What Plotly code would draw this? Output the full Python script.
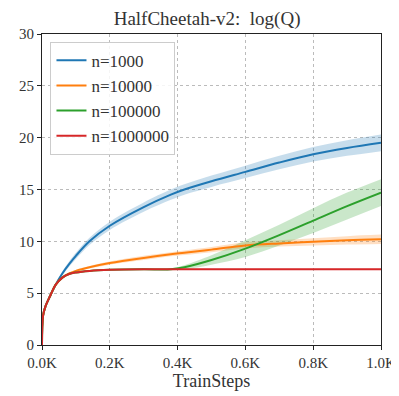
import plotly.graph_objects as go

# Data (x in thousands of train steps)
steps = [0.0, 0.003, 0.01, 0.025, 0.04, 0.06, 0.08, 0.1, 0.14, 0.2, 0.3, 0.38, 0.42, 0.5, 0.6, 0.7, 0.8, 0.9, 1.0]

q_1000    = [0.0, 2.8, 3.7, 4.8, 5.8, 6.9, 7.8, 8.6, 10.0, 11.5, 13.3, 14.5, 15.0, 15.8, 16.7, 17.6, 18.4, 19.0, 19.5]
q_1000_sd = [0.0, 0.05, 0.05, 0.1, 0.15, 0.2, 0.25, 0.3, 0.35, 0.4, 0.45, 0.5, 0.5, 0.55, 0.6, 0.65, 0.7, 0.75, 0.8]

q_10000    = [0.0, 2.8, 3.7, 4.8, 5.8, 6.5, 6.9, 7.15, 7.5, 7.9, 8.4, 8.75, 8.9, 9.2, 9.6, 9.8, 9.95, 10.1, 10.2]
q_10000_sd = [0.0, 0.05, 0.05, 0.05, 0.05, 0.05, 0.05, 0.1, 0.12, 0.15, 0.2, 0.2, 0.22, 0.25, 0.3, 0.3, 0.35, 0.4, 0.45]

q_100000    = [0.0, 2.8, 3.7, 4.8, 5.8, 6.5, 6.85, 7.0, 7.15, 7.25, 7.3, 7.3, 7.5, 8.2, 9.3, 10.6, 12.0, 13.4, 14.7]
q_100000_sd = [0.0, 0.05, 0.05, 0.05, 0.05, 0.05, 0.05, 0.05, 0.05, 0.05, 0.05, 0.1, 0.2, 0.45, 0.8, 1.0, 1.2, 1.3, 1.3]

q_1000000    = [0.0, 2.8, 3.7, 4.8, 5.8, 6.5, 6.85, 7.0, 7.15, 7.25, 7.3, 7.3, 7.3, 7.3, 7.3, 7.3, 7.3, 7.3, 7.3]
q_1000000_sd = [0.0, 0.05, 0.05, 0.05, 0.05, 0.05, 0.05, 0.05, 0.05, 0.05, 0.05, 0.05, 0.05, 0.05, 0.05, 0.05, 0.05, 0.05, 0.05]

names = ["n=1000", "n=10000", "n=100000", "n=1000000"]
means = [q_1000, q_10000, q_100000, q_1000000]
sds = [q_1000_sd, q_10000_sd, q_100000_sd, q_1000000_sd]
colors = ["#1f77b4", "#ff7f0e", "#2ca02c", "#d62728"]
fills = ["rgba(31,119,180,0.25)", "rgba(255,127,14,0.25)", "rgba(44,160,44,0.25)", "rgba(214,39,40,0.25)"]

x_ticks = [0.0, 0.2, 0.4, 0.6, 0.8, 1.0]
x_labels = ["0.0K", "0.2K", "0.4K", "0.6K", "0.8K", "1.0K"]
y_ticks = [0, 5, 10, 15, 20, 25, 30]

fig = go.Figure()
for name, m, s, c, f in zip(names, means, sds, colors, fills):
    upper = [a + b for a, b in zip(m, s)]
    lower = [a - b for a, b in zip(m, s)]
    fig.add_trace(go.Scatter(x=steps, y=upper, mode="lines", line=dict(width=0, shape="spline"),
                             showlegend=False, hoverinfo="skip"))
    fig.add_trace(go.Scatter(x=steps, y=lower, mode="lines", line=dict(width=0, shape="spline"),
                             fill="tonexty", fillcolor=f, showlegend=False, hoverinfo="skip"))
for name, m, c in zip(names, means, colors):
    fig.add_trace(go.Scatter(x=steps, y=m, mode="lines", name=name,
                             line=dict(color=c, width=2, shape="spline")))

font_family = "Liberation Serif"
axis_common = dict(showline=True, linecolor="#222", linewidth=1.2, mirror=True,
                   ticks="outside", ticklen=4, tickcolor="#222", automargin=False,
                   showgrid=True, gridcolor="#bbbbbb", griddash="dot", gridwidth=1,
                   zeroline=False, tickfont=dict(size=15, color="#333", family=font_family))

# The page body has an 8px margin, so the figure is sized to fit the window.
fig.update_layout(
    width=391, height=388,
    margin=dict(l=34, r=18, t=26, b=51, autoexpand=False),
    paper_bgcolor="white", plot_bgcolor="white",
    font=dict(family=font_family, color="#333"),
    title=dict(text="HalfCheetah-v2:  log(Q)", xref="paper", x=0.487, xanchor="center",
               yref="container", y=0.99, yanchor="top",
               font=dict(size=19, color="#333", family=font_family)),
    xaxis=dict(range=[0, 1.0], tickvals=x_ticks, ticktext=x_labels,
               title=dict(text="TrainSteps", font=dict(size=18, color="#333", family=font_family), standoff=4),
               **axis_common),
    yaxis=dict(range=[0, 30], tickvals=y_ticks, **axis_common),
    legend=dict(x=0.025, y=0.975, xanchor="left", yanchor="top", traceorder="normal",
                bgcolor="rgba(255,255,255,0.85)", bordercolor="#ccc", borderwidth=1,
                font=dict(size=17, color="#333", family=font_family), tracegroupgap=0),
)

fig.write_html("out.html")
